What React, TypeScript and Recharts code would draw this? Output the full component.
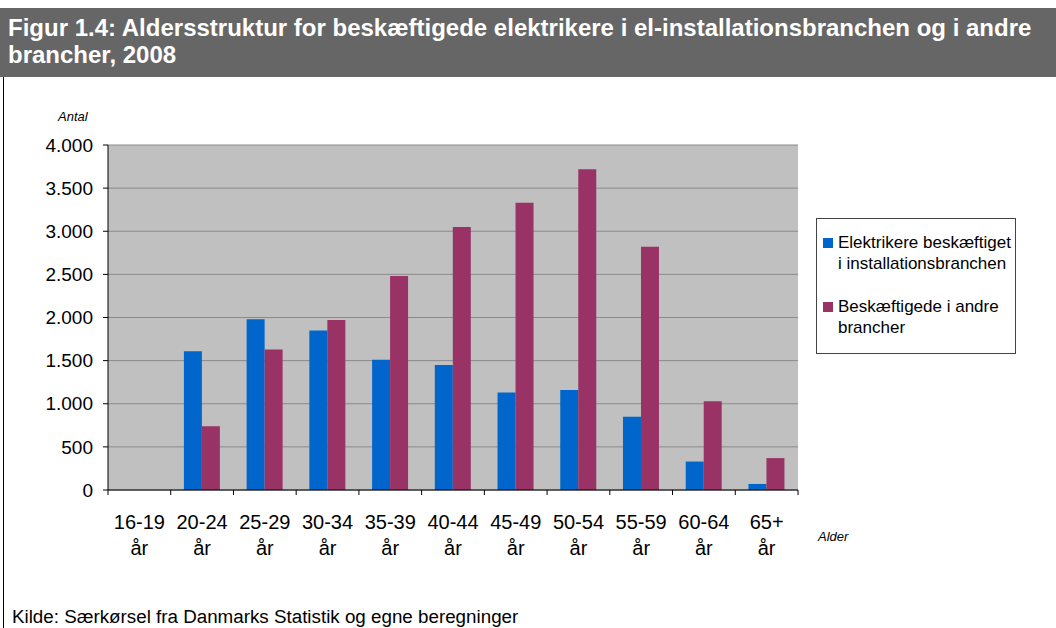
import React from 'react'
import {BarChart, Bar, XAxis, YAxis, CartesianGrid} from 'recharts'

const categories = ['16-19', '20-24', '25-29', '30-34', '35-39', '40-44', '45-49', '50-54', '55-59', '60-64', '65+']
const elektrikere = [0, 1610, 1980, 1850, 1510, 1450, 1130, 1160, 850, 330, 70]
const andre = [0, 740, 1630, 1970, 2480, 3050, 3330, 3720, 2820, 1030, 370]
const yTicks = [0, 500, 1000, 1500, 2000, 2500, 3000, 3500, 4000]

const seriesNames = ['Elektrikere beskæftiget i installationsbranchen', 'Beskæftigede i andre brancher']
const BLUE = '#0066CC'
const PURPLE = '#993366'

const data = categories.map((c, i) => ({name: c, el: elektrikere[i], andre: andre[i]}))

const fmt = (v: number) => String(v).replace(/\B(?=(\d{3})+(?!\d))/g, '.')

const FONT = '"Liberation Sans", Arial, sans-serif'

// plot geometry
const PLOT_LEFT = 108
const PLOT_RIGHT = 798
const PLOT_TOP = 145
const PLOT_BOTTOM = 490
const HALF_BAND = (PLOT_RIGHT - PLOT_LEFT) / categories.length / 2

function XTick(props: any) {
  const {x, y, payload, index} = props
  const last = index === categories.length - 1
  return (
    <g>
      <line x1={x - HALF_BAND} x2={x - HALF_BAND} y1={y - 8} y2={y - 3} stroke="#000" />
      {last && <line x1={x + HALF_BAND} x2={x + HALF_BAND} y1={y - 8} y2={y - 3} stroke="#000" />}
      <text x={x} y={y + 31} textAnchor="middle" fontSize={20} fontFamily={FONT} fill="#000">{payload.value}</text>
      <text x={x} y={y + 57} textAnchor="middle" fontSize={20} fontFamily={FONT} fill="#000">år</text>
    </g>
  )
}

function LegendBox() {
  const items = [
    {color: BLUE, lines: ['Elektrikere beskæftiget', 'i installationsbranchen']},
    {color: PURPLE, lines: ['Beskæftigede i andre', 'brancher']},
  ]
  return (
    <div style={{position: 'absolute', left: 816, top: 218, width: 198, height: 134, border: '1px solid #444', background: '#fff', fontFamily: FONT, fontSize: 17, color: '#000'}}>
      {items.map((it, i) => (
        <div key={i} style={{position: 'absolute', left: 6, top: i === 0 ? 13 : 77, display: 'flex'}}>
          <div style={{width: 10, height: 10, background: it.color, marginTop: 6, marginRight: 5}} />
          <div style={{lineHeight: '21px', whiteSpace: 'nowrap'}}>
            {it.lines.map((l, j) => <div key={j}>{l}</div>)}
          </div>
        </div>
      ))}
    </div>
  )
}

export default function App() {
  return (
    <div style={{position: 'absolute', left: 0, top: 0, width: 1056, height: 628, background: '#fff', overflow: 'hidden', fontFamily: FONT}}>
      <div style={{position: 'absolute', left: 0, top: 8, width: 1056, height: 69, background: '#666666', color: '#fff', fontWeight: 700, fontSize: 24, lineHeight: '27px', padding: '6px 0 0 8px', boxSizing: 'border-box', whiteSpace: 'nowrap'}}>
        Figur 1.4: Aldersstruktur for beskæftigede elektrikere i el-installationsbranchen og i andre<br />brancher, 2008
      </div>
      <div style={{position: 'absolute', left: 3, top: 77, width: 1, height: 551, background: '#000'}} />
      <div style={{position: 'absolute', left: 58, top: 109, fontSize: 13, fontStyle: 'italic'}}>Antal</div>
      <div style={{position: 'absolute', left: 818, top: 529, fontSize: 13, fontStyle: 'italic'}}>Alder</div>
      <div style={{position: 'absolute', left: 12, top: 606, fontSize: 18.8, lineHeight: '22px'}}>Kilde: Særkørsel fra Danmarks Statistik og egne beregninger</div>
      <div style={{position: 'absolute', left: 0, top: 0}}>
        <BarChart
          width={1056}
          height={628}
          data={data}
          margin={{top: PLOT_TOP, left: 8, right: 1056 - PLOT_RIGHT, bottom: 0}}
          barGap={0}
          barCategoryGap="21%"
        >
          <CartesianGrid vertical={false} fill="#C0C0C0" stroke="#8a8a8a" />
          <XAxis dataKey="name" height={628 - PLOT_BOTTOM} axisLine={{stroke: '#000'}} tickLine={false} tick={<XTick />} interval={0} />
          <YAxis
            width={PLOT_LEFT - 8}
            domain={[0, 4000]}
            ticks={yTicks}
            tickFormatter={fmt}
            axisLine={{stroke: '#000'}}
            tickLine={{stroke: '#000'}}
            tickSize={5}
            tickMargin={10}
            tick={{fontSize: 19, fontFamily: FONT, fill: '#000'}}
            interval={0}
          />
          <YAxis yAxisId="r" orientation="right" width={0} domain={[0, 4000]} tick={false} tickLine={false} axisLine={{stroke: '#8a8a8a'}} />
          <Bar dataKey="el" name={seriesNames[0]} fill={BLUE} isAnimationActive={false} />
          <Bar dataKey="andre" name={seriesNames[1]} fill={PURPLE} isAnimationActive={false} />
        </BarChart>
      </div>
      <LegendBox />
    </div>
  )
}
